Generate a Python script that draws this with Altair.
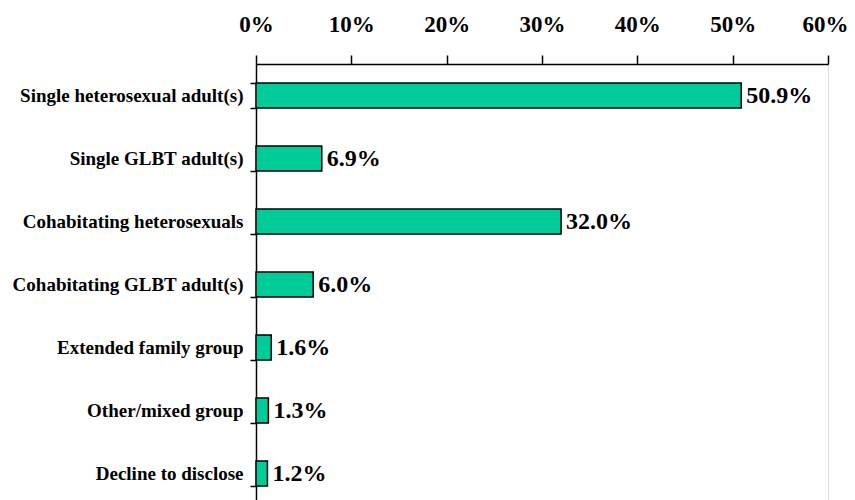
import altair as alt
import pandas as pd

categories = [
    "Single heterosexual adult(s)",
    "Single GLBT adult(s)",
    "Cohabitating heterosexuals",
    "Cohabitating GLBT adult(s)",
    "Extended family group",
    "Other/mixed group",
    "Decline to disclose",
]
values = [50.9, 6.9, 32.0, 6.0, 1.6, 1.3, 1.2]
x_ticks = [0, 10, 20, 30, 40, 50, 60]

df = pd.DataFrame({"category": categories, "pct": values})

FONT = "Liberation Serif"

x_enc = alt.X(
    "pct:Q",
    scale=alt.Scale(domain=[0, 60], nice=False, zero=True),
    axis=alt.Axis(
        orient="top",
        values=x_ticks,
        labelExpr="datum.value + '%'",
        title=None,
        grid=False,
        labelFlush=False,
        labelOverlap=False,
        labelOffset=alt.condition("datum.value == 60", alt.value(-3), alt.value(0)),
        domainColor="black",
        domainWidth=1.5,
        tickColor="black",
        tickWidth=1.5,
        tickSize=9,
        labelFont=FONT,
        labelFontWeight="bold",
        labelFontSize=23,
        labelColor="black",
        labelPadding=19,
    ),
)

y_enc = alt.Y(
    "category:N",
    sort=categories,
    scale=alt.Scale(paddingInner=0.6, paddingOuter=0.3),
    axis=alt.Axis(
        title=None,
        tickBand="extent",
        domainColor="black",
        domainWidth=1.5,
        tickColor="black",
        tickWidth=1.5,
        tickSize=6,
        labelFont=FONT,
        labelFontWeight="bold",
        labelFontSize=19,
        labelColor="black",
        labelPadding=7,
        labelLimit=400,
    ),
)

bars = alt.Chart(df).mark_bar(
    color="#00CC99", stroke="black", strokeWidth=1.5
).encode(x=x_enc, y=y_enc)

text = alt.Chart(df).transform_calculate(
    label="format(datum.pct, '.1f') + '%'"
).mark_text(
    align="left", baseline="middle", dx=5, font=FONT, fontWeight="bold",
    fontSize=24, color="black"
).encode(x="pct:Q", y=alt.Y("category:N", sort=categories), text="label:N")

chart = (
    alt.layer(bars, text)
    .properties(
        width=572,
        height=441,
        autosize=alt.AutoSizeParams(type="none"),
        padding={"left": 248, "top": 56, "right": 19, "bottom": 0},
    )
    .configure_view(stroke="black", strokeWidth=1.5)
    .configure(background="white")
)

chart.save("out.html", embed_options={"renderer": "svg", "actions": False})
